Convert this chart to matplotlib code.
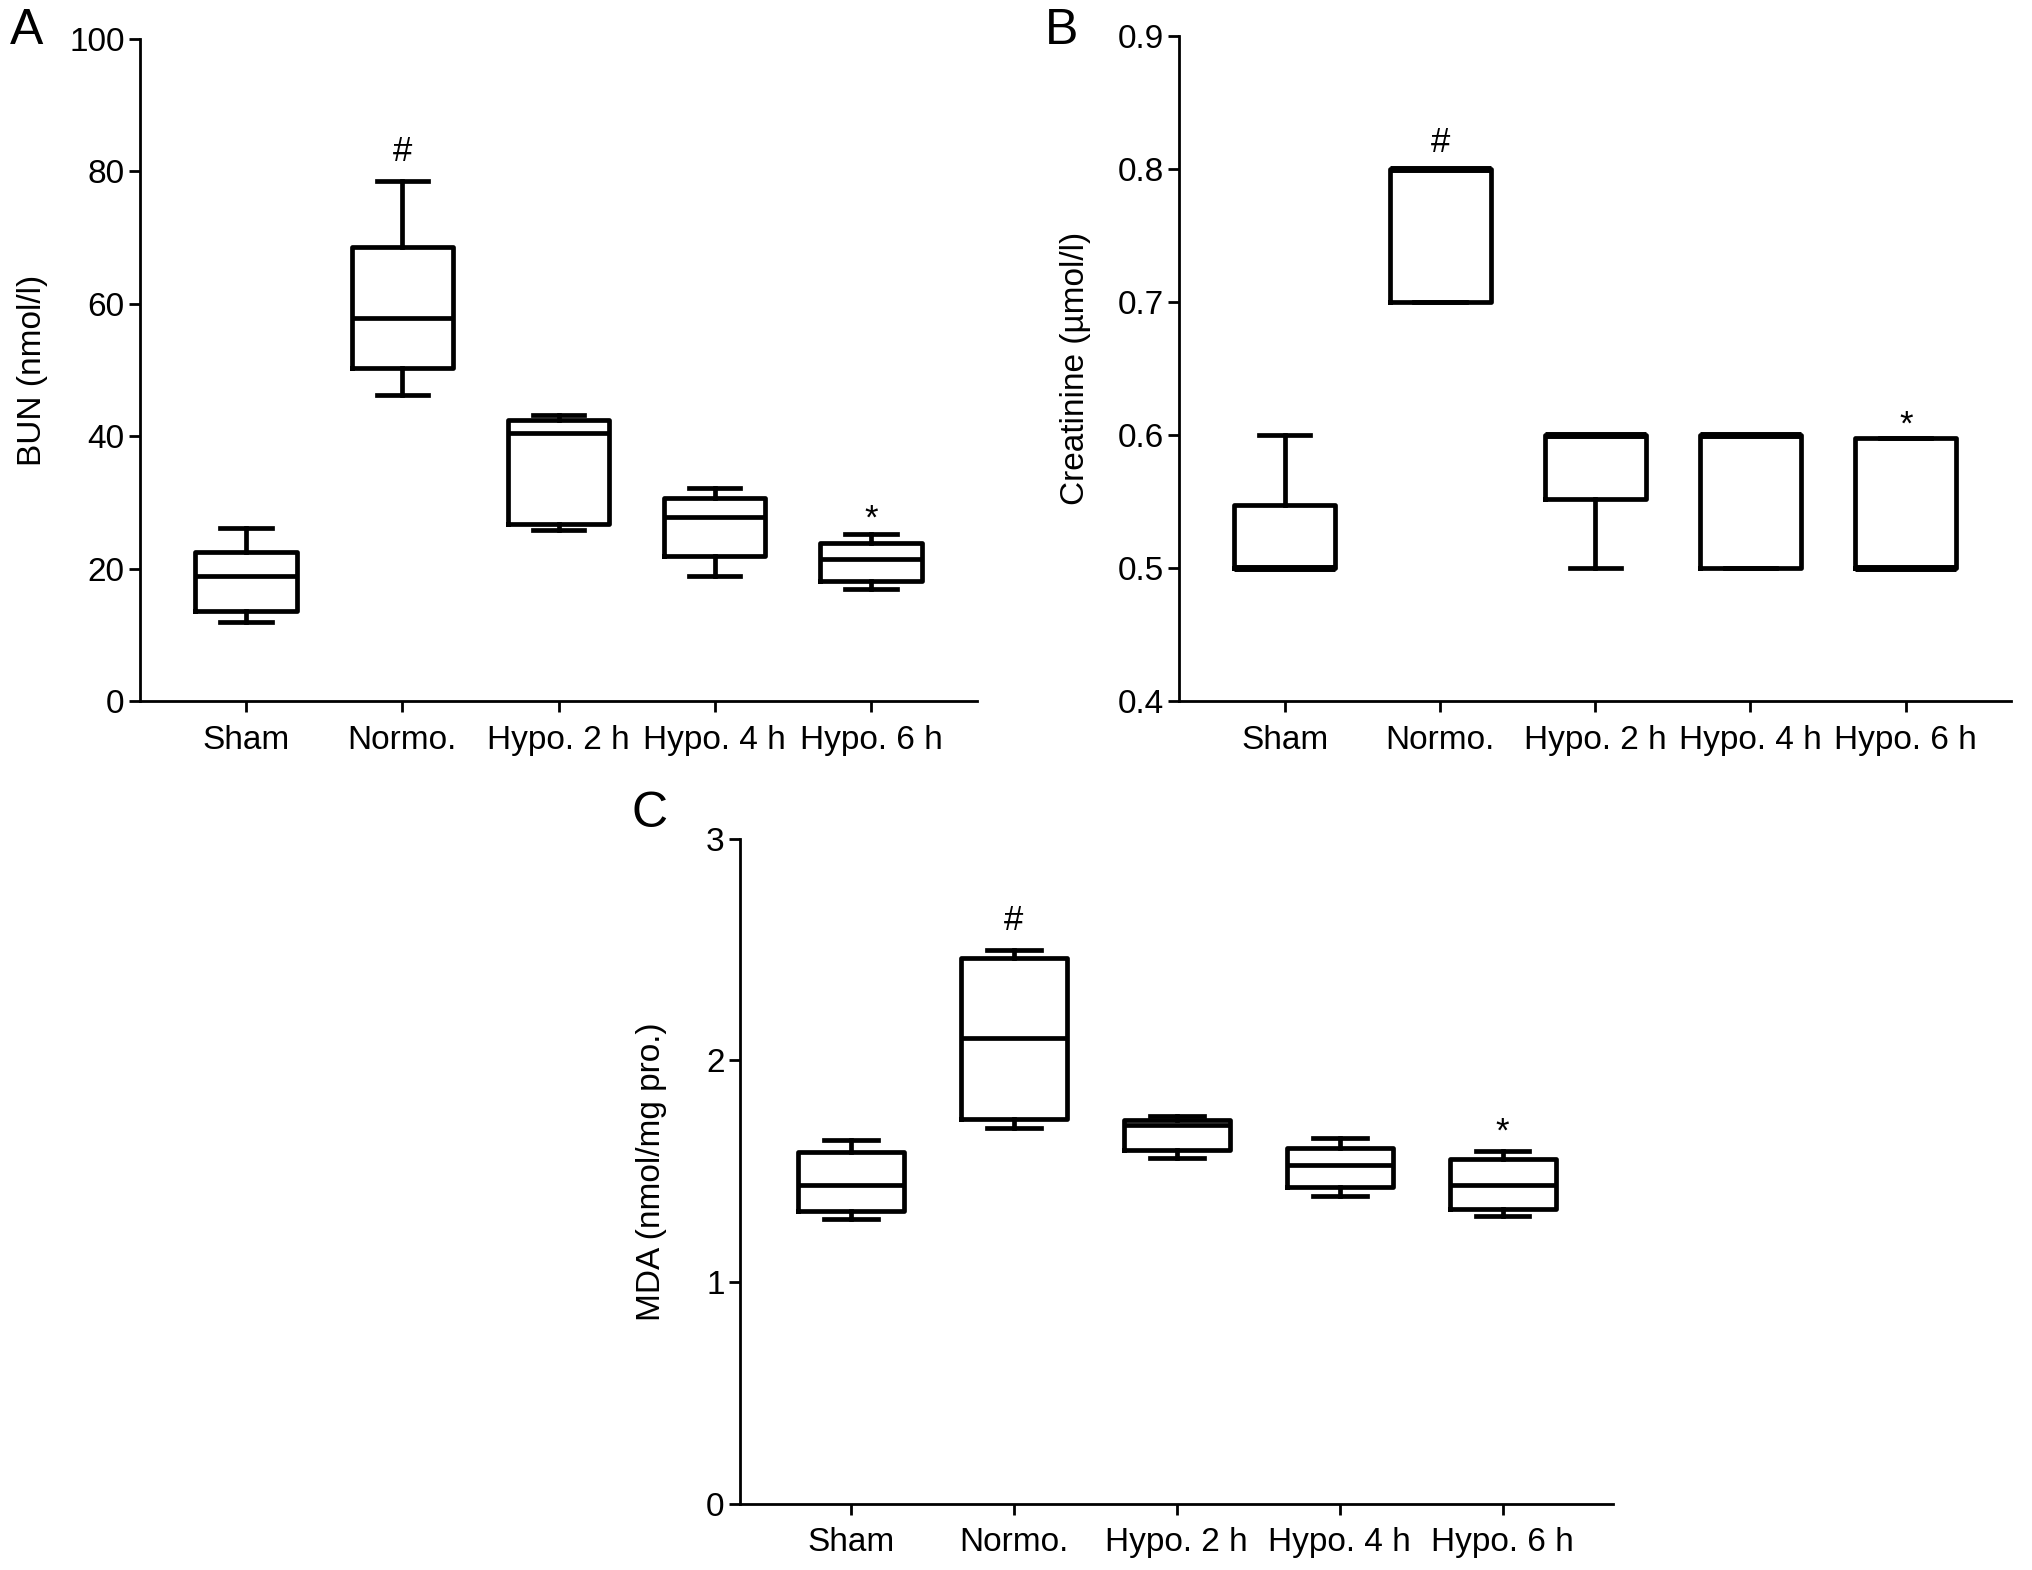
import matplotlib
matplotlib.use("Agg")
import matplotlib.pyplot as plt

plt.rcParams['font.family'] = ['Liberation Sans', 'DejaVu Sans']

categories = ["Sham", "Normo.", "Hypo. 2 h", "Hypo. 4 h", "Hypo. 6 h"]

# Panel A: BUN (nmol/l)
bun_whislo = [12.0, 46.3, 25.8, 19.0, 17.0]
bun_q1     = [13.7, 50.3, 26.8, 21.9, 18.2]
bun_med    = [19.0, 57.8, 40.5, 27.8, 21.5]
bun_q3     = [22.5, 68.6, 42.4, 30.7, 23.9]
bun_whishi = [26.1, 78.6, 43.3, 32.2, 25.2]

# Panel B: Creatinine (umol/l)
cre_whislo = [0.50, 0.70, 0.50, 0.50, 0.50]
cre_q1     = [0.50, 0.70, 0.552, 0.50, 0.50]
cre_med    = [0.50, 0.80, 0.60, 0.60, 0.50]
cre_q3     = [0.548, 0.80, 0.60, 0.60, 0.598]
cre_whishi = [0.60, 0.80, 0.60, 0.60, 0.598]

# Panel C: MDA (nmol/mg pro.)
mda_whislo = [1.285, 1.694, 1.559, 1.389, 1.298]
mda_q1     = [1.321, 1.735, 1.595, 1.430, 1.328]
mda_med    = [1.439, 2.100, 1.708, 1.529, 1.439]
mda_q3     = [1.588, 2.462, 1.733, 1.606, 1.554]
mda_whishi = [1.640, 2.498, 1.751, 1.649, 1.590]

# significance markers: (category index, symbol, y)
bun_marks = [(1, "#", 83.0), (4, "*", 28.4)]
cre_marks = [(1, "#", 0.820), (4, "*", 0.612)]
mda_marks = [(1, "#", 2.63), (4, "*", 1.70)]

W, H = 1568.0, 1211.0
fig = plt.figure(figsize=(20.32, 15.70), dpi=100)

LW = 3.4
TICK_FS = 24
LABEL_FS = 24


def make_panel(rect, whislo, q1, med, q3, whishi, ylim, yticks, yticklabels,
               ylabel, marks, letter, letter_pos, ylabel_x, med_lw=LW):
    ax = fig.add_axes(rect)
    stats = []
    for i in range(len(categories)):
        stats.append(dict(whislo=whislo[i], q1=q1[i], med=med[i], q3=q3[i],
                          whishi=whishi[i], fliers=[]))
    pos = list(range(len(categories)))
    ax.bxp(stats, positions=pos, widths=0.65, capwidths=0.33,
           showfliers=False, patch_artist=False,
           boxprops=dict(color='black', linewidth=LW),
           whiskerprops=dict(color='black', linewidth=LW),
           capprops=dict(color='black', linewidth=LW),
           medianprops=dict(color='black', linewidth=med_lw))
    ax.set_xlim(-0.68, 4.68)
    ax.set_ylim(*ylim)
    ax.set_yticks(yticks)
    ax.set_yticklabels(yticklabels, fontsize=TICK_FS)
    ax.set_xticks(pos)
    ax.set_xticklabels(categories, fontsize=TICK_FS)
    for s in ['top', 'right']:
        ax.spines[s].set_visible(False)
    for s in ['left', 'bottom']:
        ax.spines[s].set_linewidth(2.0)
    ax.tick_params(axis='both', length=8, width=2.0)
    ax.tick_params(axis='y', pad=3)
    ax.tick_params(axis='x', pad=9)
    ax.set_ylabel(ylabel, fontsize=LABEL_FS)
    ax.yaxis.set_label_coords(ylabel_x, 0.5)
    for (i, sym, y) in marks:
        if sym == "*":
            ax.annotate(sym, (i, y), xytext=(0, -4), textcoords='offset points',
                        ha='center', va='center', fontsize=25)
        else:
            ax.text(i, y, sym, ha='center', va='center', fontsize=25)
    fig.text(letter_pos[0], letter_pos[1], letter, fontsize=36,
             ha='left', va='top')
    return ax


make_panel([108 / W, 1 - 541 / H, (754 - 108) / W, (541 - 30) / H],
           bun_whislo, bun_q1, bun_med, bun_q3, bun_whishi,
           (0, 100), [0, 20, 40, 60, 80, 100],
           ["0", "20", "40", "60", "80", "100"],
           "BUN (nmol/l)", bun_marks, "A", (8 / W, 1 - 6 / H), -0.11)

make_panel([910 / W, 1 - 541 / H, (1552 - 910) / W, (541 - 28) / H],
           cre_whislo, cre_q1, cre_med, cre_q3, cre_whishi,
           (0.4, 0.9), [0.4, 0.5, 0.6, 0.7, 0.8, 0.9],
           ["0.4", "0.5", "0.6", "0.7", "0.8", "0.9"],
           "Creatinine (\u00b5mol/l)", cre_marks, "B", (806 / W, 1 - 6 / H), -0.106,
           med_lw=5.0)

make_panel([571 / W, 1 - 1160 / H, (1245 - 571) / W, (1160 - 647) / H],
           mda_whislo, mda_q1, mda_med, mda_q3, mda_whishi,
           (0, 3), [0, 1, 2, 3], ["0", "1", "2", "3"],
           "MDA (nmol/mg pro.)", mda_marks, "C", (487 / W, 1 - 610 / H), -0.083)

fig.savefig("out.png", dpi=100, facecolor='white')
